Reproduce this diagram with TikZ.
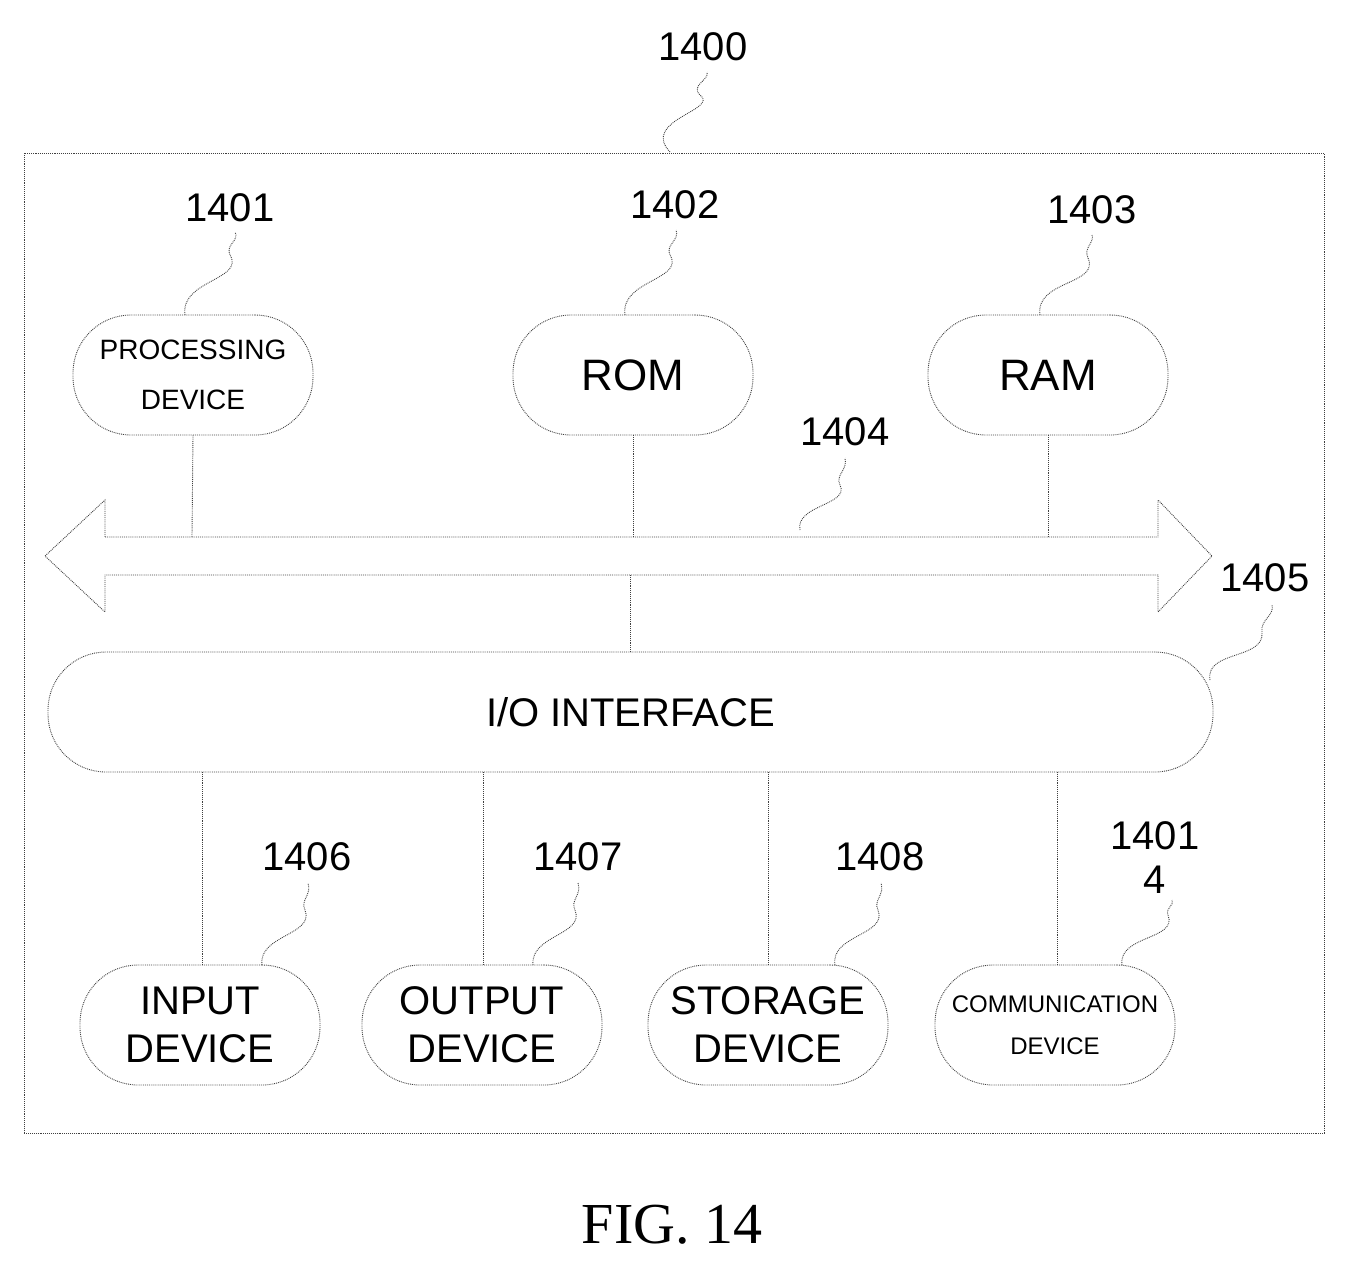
\documentclass[tikz,border=0pt]{standalone}
\usepackage{fontspec}
\setmainfont{Liberation Serif}
\setsansfont{Liberation Sans}
\begin{document}
\begin{tikzpicture}[x=1pt,y=-1pt,
  dl/.style={draw=black!75,densely dotted,line width=0.9pt},
  box/.style={dl,rounded corners=58pt,minimum width=240pt,minimum height=120pt,font=\sffamily,align=center},
  lab/.style={font=\sffamily\fontsize{40}{44}\selectfont},
  sq/.style={draw=black!75,densely dotted,line width=0.9pt}]
\useasboundingbox (0,0) rectangle (1345,1269);
\draw[dl] (24,153) rectangle (1324,1133);
\node[lab] (l1400) at (703,47) {1400};
\draw[sq] (670,152) .. controls (640,120) and (720,110) .. (700,95) .. controls (690,85) and (710,80) .. (707,72);
% top boxes
\node[box,font=\sffamily\fontsize{28}{50}\selectfont] (pd) at (193,375) {PROCESSING\\DEVICE};
\node[box,font=\sffamily\fontsize{44}{50}\selectfont] (rom) at (633,375) {ROM};
\node[box,font=\sffamily\fontsize{44}{50}\selectfont] (ram) at (1048,375) {RAM};
\node[lab] (l1401) at (230,208) {1401};
\node[lab] (l1402) at (675,205) {1402};
\node[lab] (l1403) at (1092,210) {1403};
\draw[sq] (185,315) .. controls (180,280) and (245,280) .. (230,255) .. controls (225,245) and (240,240) .. (235,232);
\draw[sq] (625,315) .. controls (620,280) and (685,280) .. (670,255) .. controls (665,245) and (680,240) .. (676,230);
\draw[sq] (1040,315) .. controls (1035,280) and (1100,285) .. (1088,258) .. controls (1083,248) and (1095,242) .. (1092,235);
% bus
\draw[dl] (105,537) -- (1158,537) -- (1158,500) -- (1212,556) -- (1158,612) -- (1158,575) -- (105,575) -- (105,612) -- (45,556) -- (105,500) -- cycle;
\coordinate (b1) at (192,537); \coordinate (b2) at (633,537); \coordinate (b3) at (1048,537);
\draw[dl] (pd.south) -- (b1);
\draw[dl] (rom.south) -- (b2);
\draw[dl] (ram.south) -- (b3);
\node[lab] (l1404) at (845,432) {1404};
\draw[sq] (800,530) .. controls (795,505) and (850,505) .. (840,485) .. controls (835,475) and (848,470) .. (845,458);
% IO
\node[box,minimum width=1165pt,font=\sffamily\fontsize{40}{44}\selectfont] (io) at (630.5,712) {I/O INTERFACE};
\coordinate (b4) at (630,575);
\draw[dl] (b4) -- (io.north -| b4);
\node[lab] (l1405) at (1265,578) {1405};
\draw[sq] (1210,680) .. controls (1205,650) and (1265,660) .. (1262,632) .. controls (1260,620) and (1275,615) .. (1272,605);
% bottom
\node[box,font=\sffamily\fontsize{40}{48}\selectfont] (in) at (200,1025) {INPUT\\DEVICE};
\node[box,font=\sffamily\fontsize{40}{48}\selectfont] (out) at (482,1025) {OUTPUT\\DEVICE};
\node[box,font=\sffamily\fontsize{40}{48}\selectfont] (st) at (768,1025) {STORAGE\\DEVICE};
\node[box,font=\sffamily\fontsize{24}{42}\selectfont] (cm) at (1055,1025) {COMMUNICATION\\DEVICE};
\foreach \n/\x in {in/202,out/483,st/768,cm/1057}{
  \draw[dl] (\x,772) -- (\n.north -| \x,0);
}
\node[lab] (l1406) at (307,857) {1406};
\node[lab] (l1407) at (578,857) {1407};
\node[lab] (l1408) at (880,857) {1408};
\node[lab,align=center] (l14014) at (1155,858) {1401\\4};
\draw[sq] (262,965) .. controls (258,935) and (315,935) .. (305,910) .. controls (300,900) and (312,895) .. (308,883);
\draw[sq] (533,965) .. controls (530,935) and (585,935) .. (575,910) .. controls (570,900) and (582,895) .. (578,883);
\draw[sq] (835,965) .. controls (830,935) and (888,935) .. (878,910) .. controls (873,900) and (885,895) .. (881,883);
\draw[sq] (1122,965) .. controls (1118,935) and (1178,940) .. (1168,915) .. controls (1165,908) and (1175,905) .. (1172,900);
\node[font=\fontsize{58}{60}\selectfont] (fig) at (672,1225) {FIG. 14};
\end{tikzpicture}
\end{document}
